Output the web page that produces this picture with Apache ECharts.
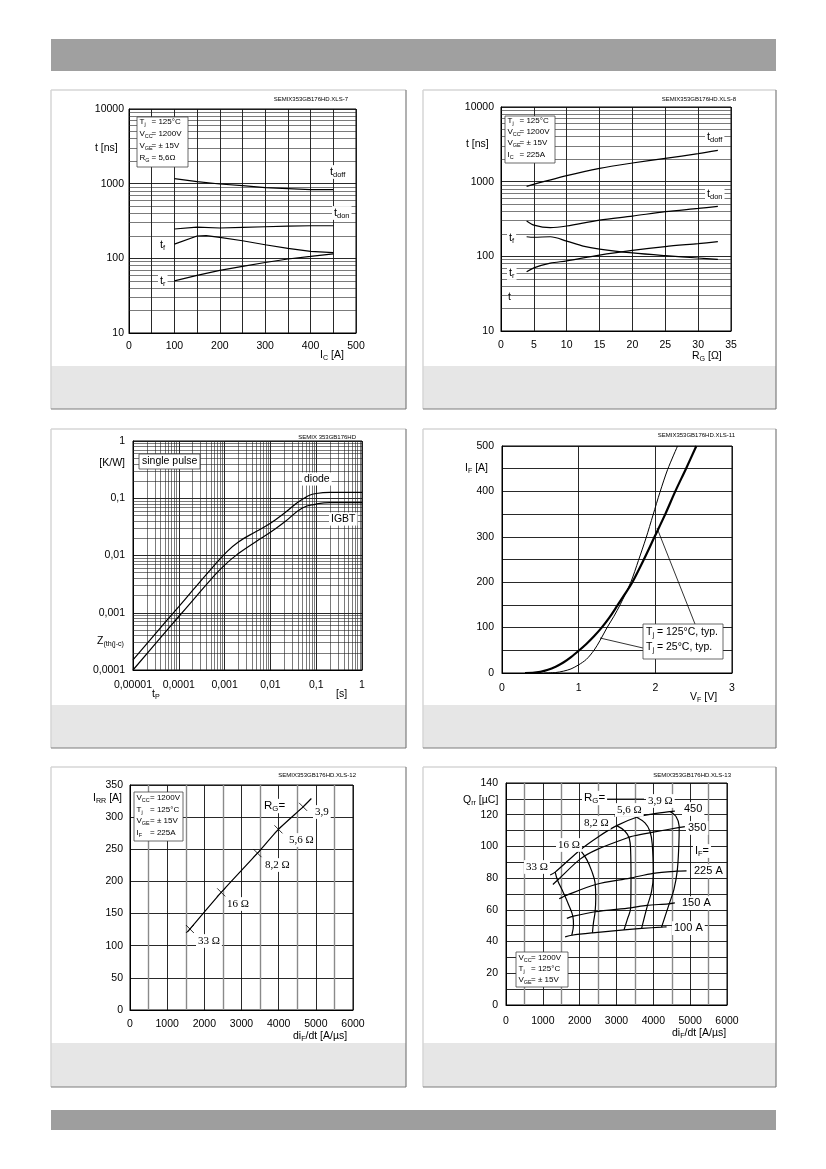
<!DOCTYPE html>
<html>
<head>
<meta charset="utf-8">
<title>SEMiX353GB176HD</title>
<script src="https://cdn.jsdelivr.net/npm/echarts@6/dist/echarts.min.js"></script>
<style>body{margin:0;background:#fff}</style>
</head>
<body>
<div id="page" style="width:826px;height:1169px"></div>
<script>
var SANS = '"Liberation Sans", Arial, sans-serif';
var SERIF = '"Liberation Serif", "Times New Roman", serif';

// 1: switching times vs Ic
var icTicks = [0, 100, 200, 300, 400, 500];
var tTicks = [10, 100, 1000, 10000];
var tdoffIc = [[100, 1166], [150, 1063], [200, 990], [250, 940], [300, 884], [350, 857], [400, 831], [450, 830]];
var tdonIc = [[100, 247], [150, 262], [200, 255], [250, 260], [300, 265], [350, 270], [400, 273], [450, 273]];
var tfIc = [[100, 155], [150, 199], [170, 201], [200, 191], [250, 172], [300, 152], [350, 136], [400, 124], [450, 119]];
var trIc = [[100, 50], [150, 59], [200, 69], [250, 78], [300, 88], [350, 98], [400, 106], [450, 115]];

// 2: switching times vs Rg
var rgTicks = [0, 5, 10, 15, 20, 25, 30, 35];
var tdoffRg = [[3.9, 866], [10, 1203], [15, 1507], [20, 1777], [25, 2052], [30, 2368], [33, 2624]];
var tdonRg = [[3.9, 297], [5, 262], [7.5, 242], [10, 255], [15, 306], [20, 346], [25, 396], [30, 438], [33, 467]];
var tfRg = [[3.9, 183], [5, 180], [7.5, 183], [10, 160], [12.5, 137], [15, 125], [20, 111], [25, 102], [30, 95], [33, 91]];
var trRg = [[3.9, 62], [5, 70], [7.5, 81], [10, 87], [15, 104], [20, 120], [25, 135], [30, 148], [33, 157]];

// 3: transient thermal impedance
var tpTicks = [0.00001, 0.0001, 0.001, 0.01, 0.1, 1];
var tpNames = ['0,00001', '0,0001', '0,001', '0,01', '0,1', '1'];
var zthTicks = [0.0001, 0.001, 0.01, 0.1, 1];
var zthNames = ['0,0001', '0,001', '0,01', '0,1', '1'];
var zthDiode = [[0.00001, 0.00015], [0.00003, 0.00042], [0.0001, 0.00128], [0.0002, 0.00245], [0.0005, 0.0057], [0.001, 0.0106],
  [0.002, 0.0172], [0.005, 0.0265], [0.01, 0.0365], [0.02, 0.0546], [0.05, 0.096], [0.1, 0.121], [0.2, 0.127], [1, 0.127]];
var zthIgbt = [[0.00001, 0.0001], [0.00003, 0.00028], [0.0001, 0.00086], [0.0002, 0.00163], [0.0005, 0.0038], [0.001, 0.0068],
  [0.002, 0.0108], [0.005, 0.0178], [0.01, 0.0254], [0.02, 0.038], [0.05, 0.0675], [0.1, 0.079], [0.2, 0.084], [1, 0.084]];

// 4: diode forward characteristic
var vfTicks = [0, 1, 2, 3];
var ifTicks = [0, 100, 200, 300, 400, 500];
var if125 = [[0.3, 0], [0.4, 0.3], [0.5, 2.5], [0.6, 7], [0.7, 14], [0.8, 23], [0.9, 35], [1.0, 49], [1.1, 64], [1.2, 81], [1.3, 100],
  [1.4, 122], [1.51, 150], [1.6, 173], [1.7, 200], [1.85, 250], [1.99, 300], [2.13, 350], [2.26, 400], [2.4, 450], [2.535, 500]];
var if25 = [[0.55, 0], [0.7, 1], [0.8, 4], [0.9, 9], [1.0, 18], [1.1, 30], [1.2, 50], [1.28, 72], [1.37, 100], [1.46, 125], [1.54, 150],
  [1.68, 200], [1.78, 248], [1.88, 298], [1.97, 348], [2.06, 398], [2.16, 448], [2.29, 500]];

// 5: recovery current vs diF/dt
var didtTicks = [0, 1000, 2000, 3000, 4000, 5000, 6000];
var irrTicks = [0, 50, 100, 150, 200, 250, 300, 350];
var irrLine = [[1540, 121], [1612, 126], [2454, 183], [3430, 244], [3994, 281], [4657, 316], [4880, 329]];
var irrPoints = [[1612, 126], [2454, 183], [3430, 244], [3994, 281], [4657, 316]];

// 6: recovered charge vs diF/dt
var qrrTicks = [0, 20, 40, 60, 80, 100, 120, 140];
var qrrIf450 = [[1200, 82], [1336, 83.8], [2013, 97.8], [2500, 106], [3005, 113.1], [3547, 118.4], [4000, 120.5], [4449, 122], [4585, 122.3]];
var qrrIf350 = [[1273, 76], [1399, 78.7], [2013, 92], [2464, 98], [3366, 106], [3547, 107], [3998, 109], [4720, 112], [4856, 112.5]];
var qrrIf225 = [[1444, 67], [1652, 69.3], [2437, 76], [3366, 80], [3998, 83], [4630, 84.4], [4901, 84.6]];
var qrrIf150 = [[1652, 54.6], [1832, 56], [2419, 58.8], [3385, 61.3], [3818, 62.8], [4404, 63.8], [4585, 64.4]];
var qrrIf100 = [[1606, 43], [1787, 44], [2347, 45.5], [3204, 47.4], [3682, 48.3], [4224, 49.1], [4359, 49.3]];
var qrrRg33 = [[1336, 83.8], [1399, 78.7], [1561, 70.7], [1697, 63.4], [1814, 56], [1832, 50.8], [1787, 44]];
var qrrRg16 = [[2013, 97.8], [2193, 91.7], [2329, 84.4], [2419, 77], [2437, 67.6], [2419, 58.8], [2374, 51.8], [2347, 45.5]];
var qrrRg82 = [[3005, 113.1], [3231, 109.6], [3348, 105], [3384, 97], [3394, 80.2], [3385, 61.3], [3294, 54], [3204, 47.4]];
var qrrRg56 = [[3547, 118.4], [3773, 114.8], [3908, 109.6], [3971, 101.2], [3998, 82.3], [3953, 71.8], [3836, 62.3], [3682, 48.3]];
var qrrRg39 = [[4449, 122], [4612, 119], [4702, 112.7], [4693, 101.2], [4648, 84.4], [4558, 72.8], [4431, 63.8], [4224, 49.1]];

// log grid helper lines (2..9 in every decade)
var decadeSteps = [2, 3, 4, 5, 6, 7, 8, 9];
function logMinor(lo, hi) {
  var out = [];
  for (var d = lo; d < hi * 0.99; d *= 10) {
    decadeSteps.forEach(function (m) { out.push(+(d * m).toPrecision(3)); });
  }
  return out;
}

function labelFrom(list, names) {
  return function (v) {
    for (var i = 0; i < list.length; i++) {
      if (Math.abs(v - list[i]) <= Math.abs(list[i]) * 1e-6 + 1e-12) return names ? names[i] : String(list[i]);
    }
    return '';
  };
}

function axis(gi, type, min, max, interval, ticks, names, margin) {
  var a = {
    gridIndex: gi, type: type, min: min, max: max,
    axisLine: { show: true, onZero: false, lineStyle: { color: '#000', width: 1 } },
    axisTick: { show: false },
    splitLine: { show: true, lineStyle: { color: '#111', width: 0.9 } },
    axisLabel: { color: '#000', fontFamily: SANS, fontSize: 10.5, margin: margin, interval: 0,
      showMinLabel: true, showMaxLabel: true, formatter: labelFrom(ticks, names) }
  };
  if (type === 'log') a.logBase = 10; else a.interval = interval;
  return a;
}
// half-step grid lines drawn softer, as in the scanned sheet
function halfSteps(a) {
  a.minorTick = { show: false, splitNumber: 2 };
  a.minorSplitLine = { show: true, lineStyle: { color: '#8a8a8a', width: 1.4 } };
  return a;
}

function minorLines(dim, values) {
  return {
    silent: true, symbol: ['none', 'none'], label: { show: false }, emphasis: { disabled: true }, precision: 10,
    lineStyle: { color: '#222', width: 0.6, type: 'solid', opacity: 1 },
    data: values.map(function (v) { var o = {}; o[dim] = v; return o; })
  };
}

function curve(gi, data, width, smooth) {
  return { type: 'line', xAxisIndex: gi, yAxisIndex: gi, data: data, symbol: 'none', silent: true,
    smooth: smooth || false, lineStyle: { color: '#000', width: width || 1.2 }, z: 5 };
}

// ---- page decoration
var g = [];
function rect(x, y, w, h, fill, z) {
  g.push({ type: 'rect', silent: true, z: z == null ? -10 : z, shape: { x: x, y: y, width: w, height: h }, style: { fill: fill } });
}
function seg(x1, y1, x2, y2, color, w, z) {
  g.push({ type: 'line', silent: true, z: z == null ? -9 : z, shape: { x1: x1, y1: y1, x2: x2, y2: y2 }, style: { stroke: color, lineWidth: w || 1 } });
}
function box(x, y, w, h) {
  g.push({ type: 'rect', silent: true, z: 40, shape: { x: x, y: y, width: w, height: h }, style: { fill: '#fff', stroke: '#444', lineWidth: 0.8 } });
}
function txt(x, y, s, size, o) {
  o = o || {};
  var fam = o.serif ? SERIF : SANS;
  var st = {
    text: s, fill: '#000', fontSize: size, fontFamily: fam, align: o.align || 'left', verticalAlign: 'middle',
    lineHeight: size * 1.25,
    rich: { s: { fontSize: size * 0.68, fontFamily: fam, fill: '#000', verticalAlign: 'bottom', lineHeight: size * 0.45 } }
  };
  if (o.bg) { st.backgroundColor = '#fff'; st.padding = [0, 2, 0, 2]; }
  g.push({ type: 'text', silent: true, z: o.z || 50, x: x, y: y, style: st });
}
function panel(x1, y1, x2, y2, capTop) {
  rect(x1, y1, x2 - x1, y2 - y1, '#fff');
  rect(x1, capTop, x2 - x1, y2 - capTop, '#e6e6e6');
  seg(x1, y1, x2, y1, '#d6d6d6', 1.5);
  seg(x1, y1, x1, y2, '#d6d6d6', 1.5);
  seg(x2, y1, x2, y2, '#7d7d7d', 1.2);
  seg(x1, y2, x2, y2, '#7d7d7d', 1.2);
}
function conditions(x, y, w, h, rows, symX, valX, rowY) {
  box(x, y, w, h);
  rows.forEach(function (r, i) {
    txt(symX, rowY[i], r[0], 8, { z: 45 });
    txt(valX, rowY[i], r[1], 8, { z: 45 });
  });
}

rect(51, 39, 725, 32, '#a0a0a0');
rect(51, 1110, 725, 20, '#9e9e9e');
panel(51, 90, 406, 409, 366);
panel(423, 90, 776, 409, 366);
panel(51, 429, 406, 748, 705);
panel(423, 429, 776, 748, 705);
panel(51, 767, 406, 1087, 1043);
panel(423, 767, 776, 1087, 1043);

// chart 1 texts
txt(348, 99, 'SEMIX353GB176HD.XLS-7', 6, { align: 'right' });
txt(95, 148, 't [ns]', 10.5);
conditions(137, 117, 51, 50, [['T{s|j}', '= 125°C'], ['V{s|CC}', '= 1200V'], ['V{s|GE}', '= ± 15V'], ['R{s|G}', '= 5,6Ω']],
  139.5, 151.5, [122, 134, 146, 158]);
txt(328, 172, 't{s|doff}', 11, { bg: true });
txt(332, 213, 't{s|don}', 11, { bg: true });
txt(158, 245, 't{s|f}', 11, { bg: true });
txt(158, 281, 't{s|r}', 11, { bg: true });
txt(320, 355, 'I{s|C} [A]', 10.5);

// chart 2 texts
txt(736, 99, 'SEMIX353GB176HD.XLS-8', 6, { align: 'right' });
txt(466, 144, 't [ns]', 10.5);
conditions(505, 116, 50, 47, [['T{s|j}', '= 125°C'], ['V{s|CC}', '= 1200V'], ['V{s|GE}', '= ± 15V'], ['I{s|C}', '= 225A']],
  507.5, 519.5, [120.5, 131.5, 142.5, 154.5]);
txt(705, 137, 't{s|doff}', 11, { bg: true });
txt(705, 194, 't{s|don}', 11, { bg: true });
txt(507, 238, 't{s|f}', 11, { bg: true });
txt(507, 273, 't{s|r}', 11, { bg: true });
txt(508, 297, 't', 10.5);
txt(692, 356, 'R{s|G} [Ω]', 10.5);

// chart 3 texts
txt(356, 437, 'SEMIX 353GB176HD', 6, { align: 'right' });
txt(125, 463, '[K/W]', 10.5, { align: 'right' });
box(139, 454, 61, 15);
txt(142, 461, 'single pulse', 10.5, { z: 45 });
txt(302, 479, 'diode', 10.5, { bg: true });
txt(329, 519, 'IGBT', 10.5, { bg: true });
txt(97, 641, 'Z{s|(th(j-c)}', 10.5);
txt(152, 694, 't{s|P}', 10.5);
txt(336, 694, '[s]', 10.5);

// chart 4 texts
txt(735, 435, 'SEMIX353GB176HD.XLS-11', 6, { align: 'right' });
txt(465, 468, 'I{s|F} [A]', 10.5);
seg(695, 624, 657, 528, '#000', 0.8, 30);
seg(643, 648, 600, 638, '#000', 0.8, 30);
box(643, 624, 80, 35);
txt(646, 632, 'T{s|j} = 125°C, typ.', 10.5, { z: 45 });
txt(646, 647, 'T{s|j} = 25°C, typ.', 10.5, { z: 45 });
txt(690, 697, 'V{s|F} [V]', 10.5);

// chart 5 texts
txt(356, 775, 'SEMIX353GB176HD.XLS-12', 6, { align: 'right' });
txt(93, 798, 'I{s|RR} [A]', 10.5);
conditions(134, 792, 49, 49, [['V{s|CC}', '= 1200V'], ['T{s|j}', '= 125°C'], ['V{s|GE}', '= ± 15V'], ['I{s|F}', '= 225A']],
  136.5, 150, [798, 809.5, 821, 832.5]);
txt(262, 806, 'R{s|G}=', 11.5, { bg: true });
txt(313, 812, '3,9', 11, { serif: true, bg: true });
txt(287, 840, '5,6 Ω', 11, { serif: true, bg: true });
txt(263, 865, '8,2 Ω', 11, { serif: true, bg: true });
txt(225, 904, '16 Ω', 11, { serif: true, bg: true });
txt(196, 941, '33 Ω', 11, { serif: true, bg: true });
txt(293, 1036, 'di{s|F}/dt [A/µs]', 10.5);

// chart 6 texts
txt(731, 775, 'SEMIX353GB176HD.XLS-13', 6, { align: 'right' });
txt(463, 800, 'Q{s|rr} [µC]', 10.5);
conditions(516, 952, 52, 35, [['V{s|CC}', '= 1200V'], ['T{s|j}', '= 125°C'], ['V{s|GE}', '= ± 15V']],
  518.5, 531, [957.5, 968.5, 980]);
seg(606, 799, 644, 799, '#000', 0.8, 30);
seg(614, 816, 640, 816, '#000', 0.8, 30);
txt(582, 798, 'R{s|G}=', 11.5, { bg: true });
txt(646, 801, '3,9 Ω', 11, { serif: true, bg: true });
txt(615, 810, '5,6 Ω', 11, { serif: true, bg: true });
txt(582, 823, '8,2 Ω', 11, { serif: true, bg: true });
txt(556, 845, '16 Ω', 11, { serif: true, bg: true });
txt(524, 867, '33 Ω', 11, { serif: true, bg: true });
txt(682, 809, '450', 11, { bg: true });
txt(686, 828, '350', 11, { bg: true });
txt(693, 851, 'I{s|F}=', 11, { bg: true });
txt(692, 871, '225 A', 11, { bg: true });
txt(680, 903, '150 A', 11, { bg: true });
txt(672, 928, '100 A', 11, { bg: true });
txt(672, 1033, 'di{s|F}/dt [A/µs]', 10.5);

// ---- series
var s1 = curve(0, tdoffIc); s1.markLine = minorLines('yAxis', logMinor(10, 10000));
var s2 = curve(1, tdoffRg, 1.2, 0.3); s2.markLine = minorLines('yAxis', logMinor(10, 10000));
var s3d = curve(2, zthDiode, 1.2, 0.5); s3d.markLine = minorLines('xAxis', logMinor(0.00001, 1));
var s3i = curve(2, zthIgbt, 1.2, 0.5); s3i.markLine = minorLines('yAxis', logMinor(0.0001, 1));

var series = [
  s1, curve(0, tdonIc), curve(0, tfIc), curve(0, trIc),
  s2, curve(1, tdonRg, 1.2, 0.3), curve(1, tfRg, 1.2, 0.3), curve(1, trRg, 1.2, 0.3),
  s3d, s3i,
  curve(3, if125, 2.2, 0.3), curve(3, if25, 1, 0.3),
  curve(4, irrLine, 1.2, 0.2),
  { type: 'scatter', xAxisIndex: 4, yAxisIndex: 4, data: irrPoints, silent: true, z: 6,
    symbol: 'path://M0,0L10,10M10,0L0,10', symbolSize: 8,
    itemStyle: { color: 'rgba(0,0,0,0)', borderColor: '#000', borderWidth: 1 } },
  curve(5, qrrIf450, 1.2, 0.3), curve(5, qrrIf350, 1.2, 0.3), curve(5, qrrIf225, 1.2, 0.3),
  curve(5, qrrIf150, 1.2, 0.3), curve(5, qrrIf100, 1.2, 0.3),
  curve(5, qrrRg33, 1.2, 0.4), curve(5, qrrRg16, 1.2, 0.4), curve(5, qrrRg82, 1.2, 0.4),
  curve(5, qrrRg56, 1.2, 0.4), curve(5, qrrRg39, 1.2, 0.4)
];

var gridStyle = { show: true, borderColor: '#000', borderWidth: 1, backgroundColor: 'transparent' };
function gr(l, t, w, h) { return Object.assign({ left: l, top: t, width: w, height: h }, gridStyle); }

var option = {
  animation: false,
  backgroundColor: '#fff',
  grid: [gr(129, 109, 227, 224), gr(501, 107, 230, 224), gr(133, 441, 229, 229),
    gr(502, 446, 230, 227), gr(130, 785, 223, 225), gr(506, 783, 221, 222)],
  xAxis: [
    axis(0, 'value', 0, 500, 50, icTicks, null, 8),
    axis(1, 'value', 0, 35, 5, rgTicks, null, 9),
    axis(2, 'log', 0.00001, 1, null, tpTicks, tpNames, 10),
    axis(3, 'value', 0, 3, 1, vfTicks, null, 10),
    halfSteps(axis(4, 'value', 0, 6000, 1000, didtTicks, null, 9)),
    halfSteps(axis(5, 'value', 0, 6000, 1000, didtTicks, null, 11))
  ],
  yAxis: [
    axis(0, 'log', 10, 10000, null, tTicks, null, 5),
    axis(1, 'log', 10, 10000, null, tTicks, null, 7),
    axis(2, 'log', 0.0001, 1, null, zthTicks, zthNames, 8),
    axis(3, 'value', 0, 500, 50, ifTicks, null, 8),
    axis(4, 'value', 0, 350, 50, irrTicks, null, 7),
    axis(5, 'value', 0, 140, 10, qrrTicks, null, 8)
  ],
  series: series,
  graphic: g
};

var chart = echarts.init(document.getElementById('page'));
chart.setOption(option);
</script>
</body>
</html>
